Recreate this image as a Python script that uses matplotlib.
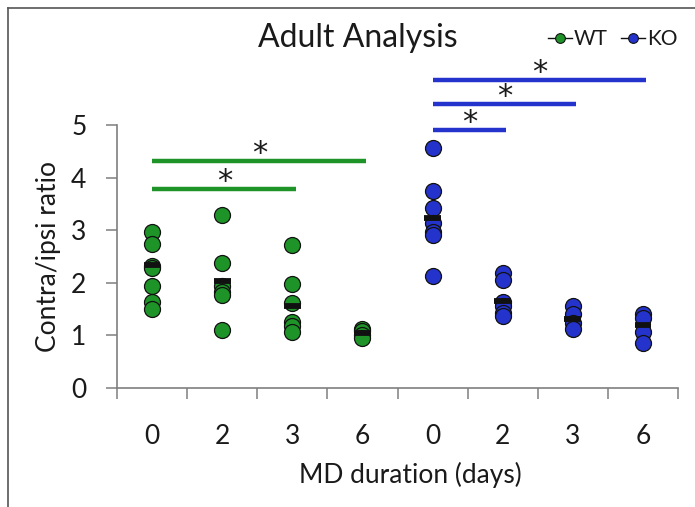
import matplotlib
matplotlib.use("Agg")
import matplotlib.pyplot as plt
from matplotlib.lines import Line2D
import numpy as np

plt.rcParams['font.family'] = ['Lato', 'DejaVu Sans']

# ---- data ----
groups = ["WT", "KO"]
day_labels = ["0", "2", "3", "6", "0", "2", "3", "6"]
wt_values = [
    [2.97, 2.73, 2.32, 2.29, 1.94, 1.64, 1.51],
    [3.29, 2.37, 1.93, 1.83, 1.77, 1.10],
    [2.72, 1.98, 1.61, 1.26, 1.17, 1.07],
    [1.13, 1.08, 1.01, 0.95],
]
ko_values = [
    [4.56, 3.75, 3.42, 3.13, 2.97, 2.91, 2.13],
    [2.18, 2.05, 1.64, 1.55, 1.43, 1.36],
    [1.55, 1.40, 1.23, 1.13],
    [1.40, 1.33, 1.07, 0.86],
]
wt_means = [2.34, 2.04, 1.56, 1.04]
ko_means = [3.23, 1.65, 1.32, 1.20]
# significance brackets: (start group index, end group index, height)
wt_sig = [(0, 2, 3.78), (0, 3, 4.32)]
ko_sig = [(4, 5, 4.90), (4, 6, 5.40), (4, 7, 5.86)]

green = "#1e9428"
blue = "#2433cc"
axis_gray = "#7f7f7f"
text_c = "#1a1a1a"

W, H = 695, 507
fig = plt.figure(figsize=(W / 100, H / 100), dpi=100)
ax_left, ax_right, ax_bottom = 117, 678, 388
unit_px = 52.6
ymax = 6.3
ax_top = ax_bottom - ymax * unit_px
ax = fig.add_axes([ax_left / W, 1 - ax_bottom / H, (ax_right - ax_left) / W,
                   (ax_bottom - ax_top) / H])
ax.set_xlim(-0.5, 7.5)
ax.set_ylim(0, ymax)

ms = 11.5
for i, vals in enumerate(wt_values + ko_values):
    col = green if i < 4 else blue
    ax.plot([i] * len(vals), vals, 'o', ms=ms, mfc=col, mec='#111111', mew=0.9,
            ls='none', zorder=3, clip_on=False)
for i, m in enumerate(wt_means + ko_means):
    ax.plot([i - 0.12, i + 0.12], [m, m], color='#111111', lw=4.2,
            solid_capstyle='butt', zorder=4)

for sig, col in [(wt_sig, green), (ko_sig, blue)]:
    for (a, b, h) in sig:
        ax.plot([a, b + 0.05], [h, h], color=col, lw=3.2, solid_capstyle='butt',
                clip_on=False)
        ax.text((a + b) / 2 + 0.03, h + 0.14, "*", ha='center', va='center',
                fontsize=22, color=text_c, family=['DejaVu Sans'])

# axes styling
for s in ['top', 'right']:
    ax.spines[s].set_visible(False)
ax.spines['left'].set_bounds(0, 5)
for s in ['left', 'bottom']:
    ax.spines[s].set_color(axis_gray)
    ax.spines[s].set_linewidth(1.2)
ax.set_yticks([0, 1, 2, 3, 4, 5])
ax.set_yticklabels(["0", "1", "2", "3", "4", "5"])
ax.tick_params(axis='y', direction='out', length=8, width=1.1, color=axis_gray,
               labelsize=19, pad=14, labelcolor=text_c)
ax.set_xticks(np.arange(-0.5, 8.0, 1.0))
ax.set_xticklabels([])
ax.set_xticks(np.arange(8), minor=True)
ax.set_xticklabels(day_labels, minor=True)
ax.tick_params(axis='x', which='major', direction='out', length=8, width=1.1,
               color=axis_gray)
ax.tick_params(axis='x', which='minor', length=0, labelsize=19, pad=26,
               labelcolor=text_c)

ax.set_ylabel("Contra/ipsi ratio", fontsize=19, color=text_c)
ax.yaxis.set_label_coords(-0.10, 2.5 / ymax)
fig.text(410 / W, 1 - 475 / H, "MD duration (days)", ha='center', va='center',
         fontsize=19, color=text_c)
fig.text(358 / W, 1 - 38 / H, "Adult Analysis", ha='center', va='center',
         fontsize=23, color=text_c)

# legend
for (lx0, name, col) in [(548, "WT", green), (621, "KO", blue)]:
    fig.add_artist(Line2D([lx0 / W, (lx0 + 24) / W], [1 - 38 / H] * 2,
                          color='#111111', lw=1.0))
    fig.add_artist(Line2D([(lx0 + 12) / W], [1 - 38 / H], marker='o', ms=7,
                          mfc=col, mec='#111111', mew=0.8, ls='none'))
    fig.text((lx0 + 26) / W, 1 - 39 / H, name, ha='left', va='center',
             fontsize=15, color=text_c)

# figure border (top and left)
fig.add_artist(Line2D([8 / W, 8 / W], [0, 1 - 8 / H], color='#555555', lw=1.2))
fig.add_artist(Line2D([8 / W, 1], [1 - 8 / H, 1 - 8 / H], color='#555555', lw=1.2))

fig.savefig("out.png", dpi=100)
